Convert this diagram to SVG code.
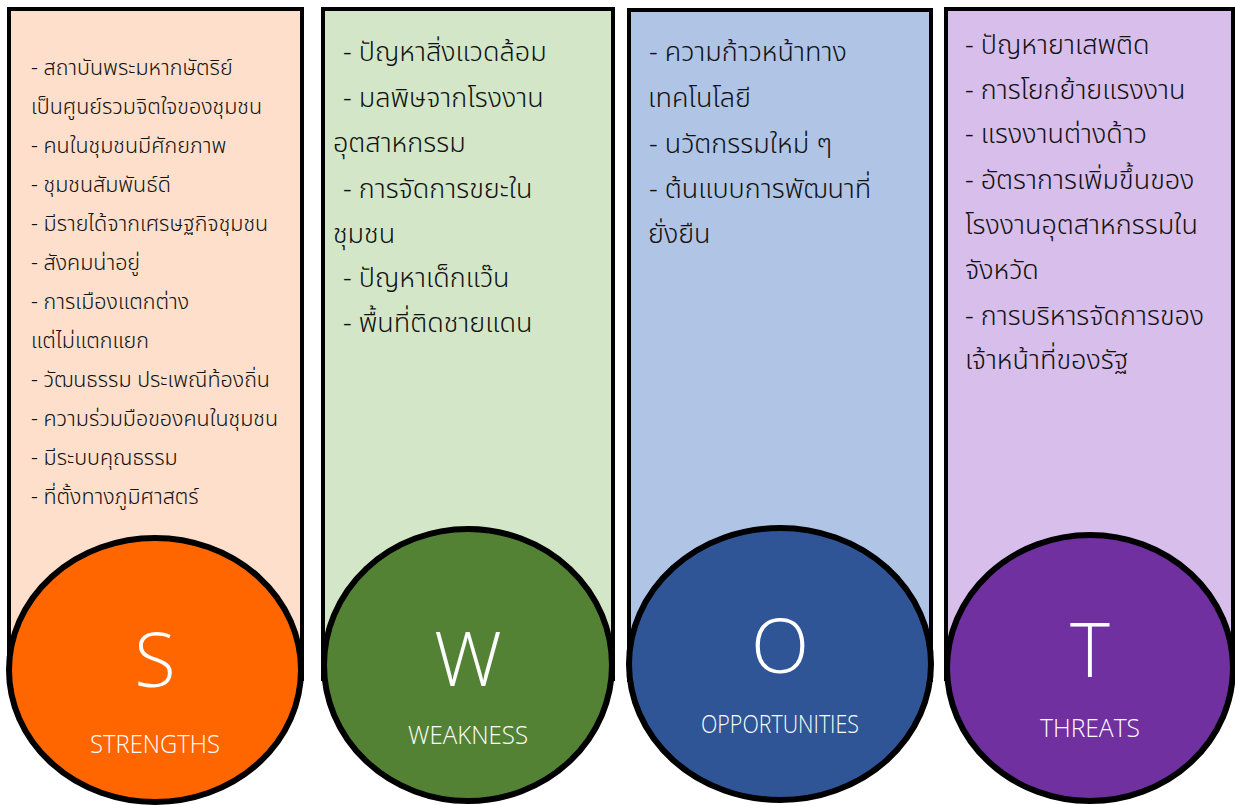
<svg xmlns="http://www.w3.org/2000/svg" width="1235" height="805" viewBox="0 0 1235 805">
<style>
.panel{stroke:#000;stroke-width:4}
.circ{stroke:#000;stroke-width:6}
.th{font-family:"Noto Sans Thai","Noto Sans","DejaVu Sans",sans-serif;fill:#111;font-weight:300}
.s{font-size:21.5px}
.w{font-size:27px}
.big{font-family:"Open Sans","Noto Sans",sans-serif;font-weight:300;fill:#fff;text-anchor:middle;font-size:76px}
.sub{font-family:"Open Sans","Noto Sans",sans-serif;font-weight:300;fill:#fff;text-anchor:middle;font-size:25px}
</style>
<rect width="1235" height="805" fill="#fff"/>
<g id="node-s">
<rect class="panel" x="9" y="9" width="293" height="670" fill="#FDDFCB"/>
<text class="th s"><tspan x="31" y="75">- สถาบันพระมหากษัตริย์</tspan><tspan x="31" y="114">เป็นศูนย์รวมจิตใจของชุมชน</tspan><tspan x="31" y="153">- คนในชุมชนมีศักยภาพ</tspan><tspan x="31" y="192">- ชุมชนสัมพันธ์ดี</tspan><tspan x="31" y="231">- มีรายได้จากเศรษฐกิจชุมชน</tspan><tspan x="31" y="270">- สังคมน่าอยู่</tspan><tspan x="31" y="309">- การเมืองแตกต่าง</tspan><tspan x="31" y="348">แต่ไม่แตกแยก</tspan><tspan x="31" y="387">- วัฒนธรรม ประเพณีท้องถิ่น</tspan><tspan x="31" y="426">- ความร่วมมือของคนในชุมชน</tspan><tspan x="31" y="465">- มีระบบคุณธรรม</tspan><tspan x="31" y="504">- ที่ตั้งทางภูมิศาสตร์</tspan></text>
<ellipse class="circ" cx="155" cy="670" rx="146" ry="132" fill="#FF6600"/>
<text class="big" x="155" y="687">S</text>
<text class="sub" x="155" y="753" textLength="130" lengthAdjust="spacingAndGlyphs">STRENGTHS</text>
</g>
<g id="node-w">
<rect class="panel" x="323" y="9" width="290" height="670" fill="#D3E7C8"/>
<text class="th w"><tspan x="343" y="61">- ปัญหาสิ่งแวดล้อม</tspan><tspan x="343" y="107">- มลพิษจากโรงงาน</tspan><tspan x="333" y="152">อุตสาหกรรม</tspan><tspan x="343" y="198">- การจัดการขยะใน</tspan><tspan x="333" y="243">ชุมชน</tspan><tspan x="343" y="287">- ปัญหาเด็กแว๊น</tspan><tspan x="343" y="332">- พื้นที่ติดชายแดน</tspan></text>
<ellipse class="circ" cx="468" cy="665" rx="144" ry="136" fill="#548235"/>
<text class="big" x="468" y="686">W</text>
<text class="sub" x="468" y="744" textLength="120" lengthAdjust="spacingAndGlyphs">WEAKNESS</text>
</g>
<g id="node-o">
<rect class="panel" x="629" y="10" width="302" height="670" fill="#B0C4E6"/>
<text class="th w"><tspan x="649" y="61">- ความก้าวหน้าทาง</tspan><tspan x="648" y="107">เทคโนโลยี</tspan><tspan x="649" y="153">- นวัตกรรมใหม่ ๆ</tspan><tspan x="649" y="198">- ต้นแบบการพัฒนาที่</tspan><tspan x="648" y="243">ยั่งยืน</tspan></text>
<ellipse class="circ" cx="780" cy="664" rx="151" ry="136" fill="#2F5597"/>
<text class="big" x="780" y="673">O</text>
<text class="sub" x="780" y="733" textLength="158" lengthAdjust="spacingAndGlyphs">OPPORTUNITIES</text>
</g>
<g id="node-t">
<rect class="panel" x="946" y="9" width="287" height="670" fill="#D8BEEB"/>
<text class="th w"><tspan x="965" y="54">- ปัญหายาเสพติด</tspan><tspan x="965" y="99">- การโยกย้ายแรงงาน</tspan><tspan x="965" y="143">- แรงงานต่างด้าว</tspan><tspan x="965" y="189">- อัตราการเพิ่มขึ้นของ</tspan><tspan x="965" y="234">โรงงานอุตสาหกรรมใน</tspan><tspan x="965" y="279">จังหวัด</tspan><tspan x="965" y="325">- การบริหารจัดการของ</tspan><tspan x="965" y="369">เจ้าหน้าที่ของรัฐ</tspan></text>
<ellipse class="circ" cx="1090" cy="668" rx="143" ry="133" fill="#7030A0"/>
<text class="big" x="1090" y="677">T</text>
<text class="sub" x="1090" y="737" textLength="100" lengthAdjust="spacingAndGlyphs">THREATS</text>
</g>
<g id="connectors"></g>
</svg>
